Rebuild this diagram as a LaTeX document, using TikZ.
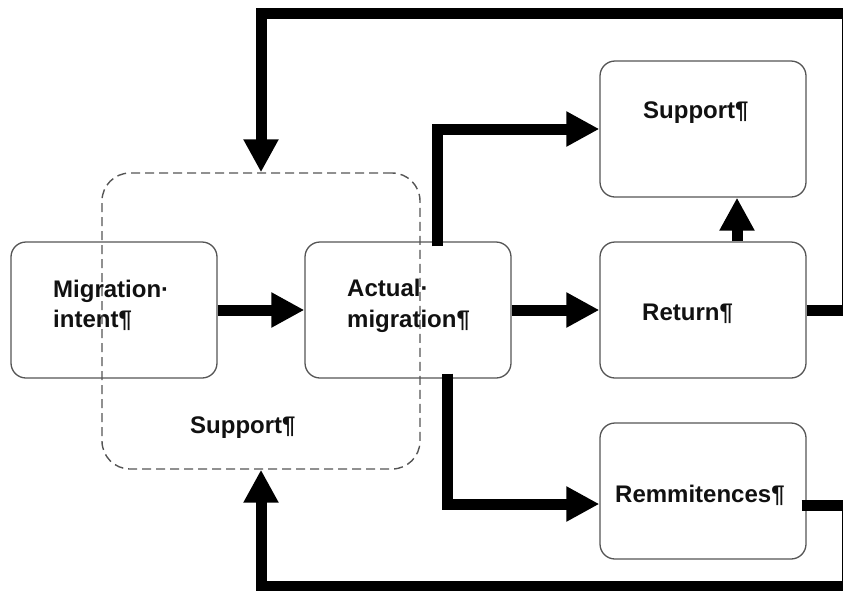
\documentclass[tikz,border=0pt]{standalone}
\usepackage{fontspec}
\setmainfont{Liberation Sans}
\usetikzlibrary{arrows.meta}
\definecolor{boxline}{HTML}{555555}
\definecolor{txt}{HTML}{111111}
\tikzset{
  flowbox/.style={draw=boxline, line width=1.3pt, rounded corners=15pt, minimum width=206pt, minimum height=136pt, inner sep=0pt},
  groupbox/.style={draw=boxline, line width=1.4pt, rounded corners=28pt, dash pattern=on 9pt off 5pt, minimum width=318pt, minimum height=296pt, inner sep=0pt},
  flow/.style={line width=11pt, line join=miter, -{Triangle[width=33pt,length=33pt]}},
  flowplain/.style={line width=11pt, line join=miter},
  lbl/.style={anchor=base west, inner sep=0pt, text=txt, font=\bfseries\fontsize{24}{31}\selectfont}
}
\begin{document}
\begin{tikzpicture}[x=1pt,y=-1pt]
\fill[white] (0,0) rectangle (843,590);
\useasboundingbox (0,0) rectangle (843,590);
% boxes
\node[flowbox] (mi) at (114,310) {};
\node[flowbox] (am) at (408,310) {};
\node[flowbox] (sup) at (703,129) {};
\node[flowbox] (ret) at (703,310) {};
\node[flowbox] (rem) at (703,491) {};
% connectors
\draw[flow] (mi.east) -- (am.west);
\draw[flow] (am.east) -- (ret.west);
\draw[flow] ([xshift=29pt,yshift=-5pt]am.north) |- (sup.west);
\draw[flow] ([xshift=39pt,yshift=5pt]am.south) |- ([yshift=-13pt]rem.west);
\draw[flow] ([xshift=34pt]ret.north) -- ([xshift=34pt]sup.south);
% labels
\node[lbl] (mi1) at (53,297) {Migration·};
\node[lbl] (mi2) at (53,327) {intent¶};
\node[lbl] (am1) at (347,296) {Actual·};
\node[lbl] (am2) at (347,327) {migration¶};
\node[lbl] (supt) at (643,118) {Support¶};
\node[lbl] (rett) at (642,320) {Return¶};
\node[lbl] (remt) at (615,502) {Remmitences¶};
\node[lbl] (sdt) at (190,433) {Support¶};
% dashed group
\node[groupbox] (sd) at (261,321) {};
% feedback loops
\coordinate (tr) at (847,13.5);
\coordinate (br) at (847,586);
\draw[flow] (ret.east) -| (tr) -| (sd.north);
\draw[flow] ([xshift=-5pt,yshift=-14pt]rem.east) -| (br) -| (sd.south);
\end{tikzpicture}
\end{document}
